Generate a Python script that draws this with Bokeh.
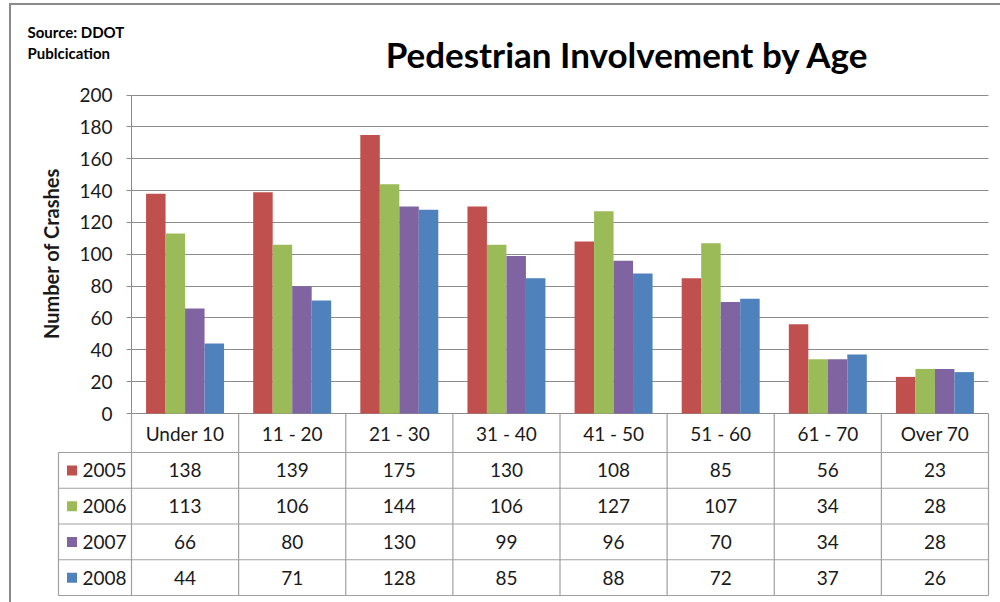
import numpy as np
from bokeh.plotting import figure
from bokeh.models import Range1d, FixedTicker, ColumnDataSource, Grid
from bokeh.layouts import column
from bokeh.embed import file_html
from bokeh.resources import INLINE
from bokeh.core.properties import value
from bokeh.transform import dodge

# ---------------- data ----------------
categories = ["Under 10", "11 - 20", "21 - 30", "31 - 40", "41 - 50", "51 - 60", "61 - 70", "Over 70"]
years = ["2005", "2006", "2007", "2008"]
y2005 = [138, 139, 175, 130, 108, 85, 56, 23]
y2006 = [113, 106, 144, 106, 127, 107, 34, 28]
y2007 = [66, 80, 130, 99, 96, 70, 34, 28]
y2008 = [44, 71, 128, 85, 88, 72, 37, 26]
y_ticks = [0, 20, 40, 60, 80, 100, 120, 140, 160, 180, 200]
title_text = "Pedestrian Involvement by Age"
source_lines = ["Source: DDOT", "Publcication"]
y_label = "Number of Crashes"

# ---------------- style / layout constants (pixels of the page) ----------------
colors = ["#C0504D", "#9BBB59", "#8064A2", "#4F81BD"]
FONT = "Lato"
GRID = "#8c8c8c"
TABLE_LINE = "#a0a0a0"
TXT = "#1a1a1a"
BAR_W = 0.182

PAGE_L, PAGE_T, PAGE_R, PAGE_B = 11, 5, 1000, 602
PLOT_L, PLOT_R = 131, 988          # plot area, x
Y0_PX, YTOP_PX, YTOP_VAL = 413, 93, 201
HEADER_PX, ROW_PX = 39, 35.75
LEG_L_PX = 58

series = [y2005, y2006, y2007, y2008]
n = len(categories)
nrows = len(years)
xc = np.arange(n) + 0.5
data = dict(x=xc, cat=categories)
for yr, s in zip(years, series):
    data[yr] = s
src = ColumnDataSource(data)

# scales
px_x = (PLOT_R - PLOT_L) / n
px_y = (Y0_PX - YTOP_PX) / YTOP_VAL
x_start = (PAGE_L - PLOT_L) / px_x
x_end = (PAGE_R - PLOT_L) / px_x
y_start = -(PAGE_B - Y0_PX) / px_y
y_end = (Y0_PX - PAGE_T) / px_y

W = PAGE_R - PAGE_L
H = PAGE_B - PAGE_T
p = figure(width=W, height=H, x_range=Range1d(x_start, x_end), y_range=Range1d(y_start, y_end),
           output_backend="svg", toolbar_location=None, x_axis_location=None,
           min_border=0, min_border_left=0, min_border_right=0, min_border_top=0, min_border_bottom=0)
p.outline_line_color = None
p.background_fill_color = "white"
p.border_fill_color = "white"
p.xgrid.visible = False

# table coordinates: rows 0..nrows below header, header spans [-HDR, 0]
HDR = HEADER_PX / ROW_PX
row0_px = Y0_PX + HEADER_PX
p.extra_y_ranges = {
    "tbl": Range1d((PAGE_B - row0_px) / ROW_PX, -(row0_px - PAGE_T) / ROW_PX),
    "px": Range1d(PAGE_B, PAGE_T),
}
p.extra_x_ranges = {"px": Range1d(PAGE_L, PAGE_R)}

# ---- grid ----
if "cross_bounds" in Grid.properties():
    p.ygrid.ticker = FixedTicker(ticks=y_ticks)
    p.ygrid.cross_bounds = (0, n)
    p.ygrid.grid_line_color = GRID
else:
    p.ygrid.visible = False
    p.segment(x0=[0] * len(y_ticks), y0=y_ticks, x1=[n] * len(y_ticks), y1=y_ticks,
              line_color=GRID, line_width=1)

# ---- bars ----
for i, yr in enumerate(years):
    p.vbar(x=dodge("x", (i - 1.5) * BAR_W, range=p.x_range), top=yr, width=BAR_W,
           source=src, fill_color=colors[i], line_color=None)

# ---- y axis (placed at x = 0) ----
ax = p.yaxis[0]
ax.fixed_location = 0
ax.ticker = FixedTicker(ticks=y_ticks)
ax.bounds = (0, 200)
ax.major_label_text_font = FONT
ax.major_label_text_font_size = "19px"
ax.major_label_text_color = TXT
ax.axis_line_color = GRID
ax.major_tick_line_color = GRID
ax.major_tick_out = 5
ax.major_tick_in = 0
ax.minor_tick_line_color = None
ax.major_label_standoff = 14

p.text(x=[50], y=[253], text=[y_label], angle=np.pi / 2, text_align="center",
       text_baseline="middle", text_font=value(FONT), text_font_size="20px",
       text_font_style="bold", text_color=TXT, x_range_name="px", y_range_name="px")

# ---- titles ----
p.text(x=[627], y=[53], text=[title_text], text_align="center", text_baseline="alphabetic",
       text_font=value(FONT), text_font_size="35px", text_font_style="bold", text_color="black",
       x_range_name="px", y_range_name="px")
p.text(x=[27, 27], y=[31.5, 52], text=source_lines, text_align="left", text_baseline="alphabetic",
       text_font=value(FONT), text_font_size="15px", text_font_style="bold", text_color="black",
       x_range_name="px", y_range_name="px")

# ---- data table ----
LEG_L = (LEG_L_PX - PLOT_L) / px_x
hy = list(range(nrows + 1))
p.segment(x0=[LEG_L] * len(hy), y0=hy, x1=[n] * len(hy), y1=hy,
          line_color=TABLE_LINE, line_width=1.2, y_range_name="tbl")
vx = list(range(n + 1))
p.segment(x0=vx, y0=[-HDR] * len(vx), x1=vx, y1=[nrows] * len(vx),
          line_color=TABLE_LINE, line_width=1.2, y_range_name="tbl")
p.segment(x0=[LEG_L], y0=[0], x1=[LEG_L], y1=[nrows],
          line_color=TABLE_LINE, line_width=1.2, y_range_name="tbl")

p.text(x=xc, y=[-HDR / 2] * n, text=categories, text_align="center", text_baseline="middle",
       text_font=value(FONT), text_font_size="19px", text_color=TXT, y_range_name="tbl")
for r, s in enumerate(series):
    p.text(x=xc, y=[r + 0.5] * n, text=[str(v) for v in s], text_align="center",
           text_baseline="middle", text_font=value(FONT), text_font_size="19px",
           text_color=TXT, y_range_name="tbl")

ry = [r + 0.5 for r in range(nrows)]
p.rect(x=[LEG_L + 13.5 / px_x] * nrows, y=ry, width=10, height=10, width_units="screen",
       height_units="screen", fill_color=colors, line_color=None, y_range_name="tbl")
p.text(x=[LEG_L + 24 / px_x] * nrows, y=ry, text=years, text_align="left", text_baseline="middle",
       text_font=value(FONT), text_font_size="19px", text_color=TXT, y_range_name="tbl")

layout = column(p, spacing=0,
                styles={"margin-left": "9px", "margin-top": "3px",
                        "border-left": "2px solid #8a8a8a", "border-top": "2px solid #8a8a8a"})
open("out.html", "w").write(file_html(layout, INLINE))
